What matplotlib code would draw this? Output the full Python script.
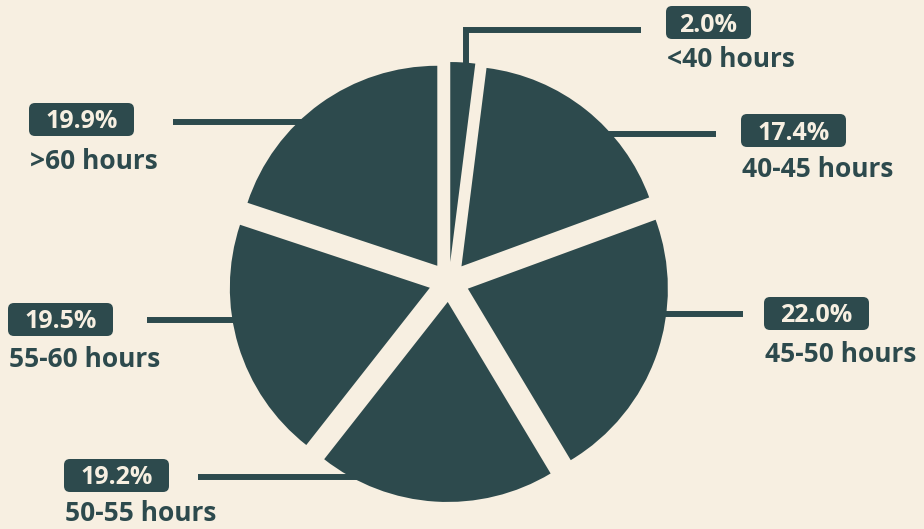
import numpy as np
import matplotlib.pyplot as plt
from matplotlib.patches import FancyBboxPatch

categories = ['<40 hours', '40-45 hours', '45-50 hours', '50-55 hours', '55-60 hours', '>60 hours']
shares = [2.0, 17.4, 22.0, 19.2, 19.5, 19.9]

BG = '#f7efe1'
TEAL = '#2d4a4d'
W, H = 924, 529

fig = plt.figure(figsize=(W / 100, H / 100), dpi=100, facecolor=BG)
ax = fig.add_axes([0, 0, 1, 1])
ax.set_facecolor(BG)

cx, cy, r = 449, H - 282, 200
# pie's explode offset is in data units here (pixels)
wedges, _ = ax.pie(shares, center=(cx, cy), radius=r, startangle=90, counterclock=False,
                   explode=[20] * len(shares), colors=[TEAL] * len(shares),
                   wedgeprops=dict(linewidth=0))
ax.set_xlim(0, W)
ax.set_ylim(0, H)
ax.set_aspect('equal')
ax.axis('off')

# label layout, image-style y (top down)
box_x = [666, 741, 764, 64, 8, 29]
box_y = [6, 114, 297, 459, 303, 103]
box_w = [85, 105, 105, 105, 105, 105]
box_h = 33
name_base = [67, 177, 362, 521, 367, 169]
line_y = [29.5, 133.5, 314, 476.5, 320, 121.5]
line_x = [641, 716, 743, 198, 147, 173]

font = dict(family=['Open Sans', 'DejaVu Sans'], weight='bold')
lw = 4.3

for i, w in enumerate(wedges):
    wx, wy = w.center
    # leader line: horizontal from label to inside the wedge
    yl = H - line_y[i]
    if i == 0:
        # thin slice: elbow going down into the wedge
        xv = 466
        top = wy + np.sqrt(r ** 2 - (xv - wx) ** 2)
        ax.plot([xv, xv, line_x[i]], [top - 15, yl, yl], color=TEAL, lw=lw,
                solid_capstyle='butt', solid_joinstyle='miter')
    else:
        dx = np.sqrt(r ** 2 - (yl - wy) ** 2)
        side = 1 if line_x[i] > wx else -1
        inner = wx + side * (dx - 25)
        ax.plot([inner, line_x[i]], [yl, yl], color=TEAL, lw=lw, solid_capstyle='butt')

    bx, by = box_x[i], H - box_y[i] - box_h
    ax.add_patch(FancyBboxPatch((bx, by), box_w[i], box_h,
                                boxstyle='round,pad=0,rounding_size=6',
                                facecolor=TEAL, edgecolor='none'))
    ax.text(bx + box_w[i] / 2, H - box_y[i] - 25.5, f'{shares[i]:.1f}%', color=BG,
            fontsize=18, ha='center', va='baseline', **font)
    ax.text(bx + 1, H - name_base[i], categories[i], color=TEAL, fontsize=19,
            ha='left', va='baseline', **font)

fig.savefig('out.png', dpi=100, facecolor=BG)
